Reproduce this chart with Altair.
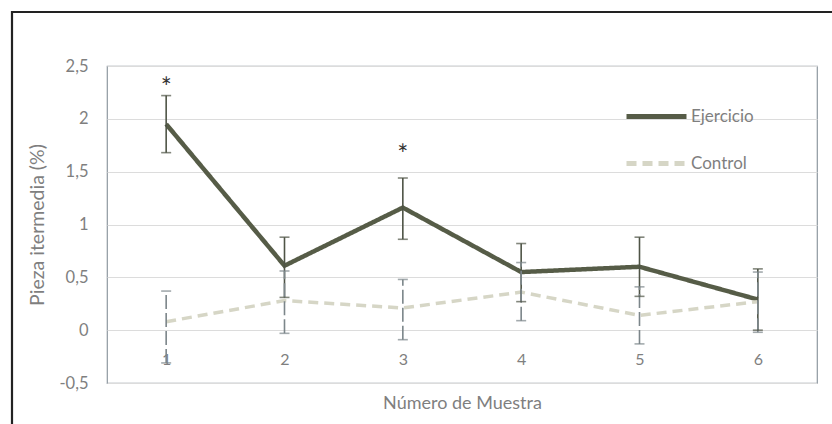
import altair as alt
import pandas as pd

samples = [1, 2, 3, 4, 5, 6]
ej_mean = [1.95, 0.61, 1.16, 0.55, 0.60, 0.29]
ej_hi = [2.22, 0.88, 1.44, 0.82, 0.88, 0.58]
ej_lo = [1.68, 0.31, 0.86, 0.27, 0.32, 0.00]
ctl_mean = [0.08, 0.28, 0.21, 0.36, 0.14, 0.27]
ctl_hi = [0.37, 0.56, 0.48, 0.64, 0.41, 0.55]
ctl_lo = [-0.31, -0.03, -0.09, 0.09, -0.13, -0.02]
series = ["Ejercicio", "Control"]
star_x = [1, 3]
star_y = [2.33, 1.70]
y_ticks = [-0.5, 0, 0.5, 1, 1.5, 2, 2.5]

rows = []
for s, m, hi, lo in [("Ejercicio", ej_mean, ej_hi, ej_lo), ("Control", ctl_mean, ctl_hi, ctl_lo)]:
    for i, x in enumerate(samples):
        rows.append({"Muestra": x, "Serie": s, "valor": m[i], "hi": hi[i], "lo": lo[i]})
df = pd.DataFrame(rows)
stars = pd.DataFrame({"Muestra": star_x, "y": star_y, "t": ["*"] * len(star_x)})

W, H = 710, 317
FONT = "Lato"
GRAY = "#7f7f7f"

xscale = alt.Scale(type="point", padding=0.5, domain=samples)
xenc = alt.X("Muestra:O", scale=xscale,
             axis=alt.Axis(title="Número de Muestra", labelAngle=0, offset=-33, ticks=False,
                           domain=False, grid=False, labelPadding=1, titlePadding=27,
                           labelColor=GRAY, titleColor=GRAY, labelFontSize=16,
                           titleFontSize=18, titleFontWeight="normal", labelFont=FONT,
                           titleFont=FONT))
yscale = alt.Scale(domain=[-0.5, 2.5], nice=False, zero=False)

color_scale = alt.Scale(domain=series, range=["#565c47", "#d6d6c6"])

frame = alt.Chart(pd.DataFrame({"a": [0]})).mark_rect(
    fill=None, stroke="#222222", strokeWidth=2.2
).encode(x=alt.value(-95), x2=alt.value(W + 40), y=alt.value(-54), y2=alt.value(H + 60))

base = alt.Chart(df)

lines = base.mark_line().encode(
    x=xenc,
    y=alt.Y("valor:Q", scale=yscale,
            axis=alt.Axis(title="Pieza itermedia (%)", values=y_ticks, grid=True,
                          gridColor="#dcdcdc", gridWidth=1, domain=False, ticks=False,
                          labelPadding=19, titlePadding=11,
                          labelExpr="replace(toString(datum.value), '.', ',')",
                          labelColor=GRAY, titleColor=GRAY, labelFontSize=16.5,
                          titleFontSize=19.5, titleFontWeight="normal", labelFont=FONT,
                          titleFont=FONT)),
    color=alt.Color("Serie:N", scale=color_scale,
                    legend=alt.Legend(title=None, orient="none", legendX=517, legendY=18,
                                      symbolType="stroke", symbolSize=3600,
                                      symbolStrokeWidth=5, labelFontSize=17,
                                      labelColor=GRAY, labelFont=FONT, rowPadding=4,
                                      labelOffset=2)),
    strokeDash=alt.StrokeDash("Serie:N", scale=alt.Scale(domain=series, range=[[1, 0], [10, 6]]),
                              legend=None),
    strokeWidth=alt.StrokeWidth("Serie:N", scale=alt.Scale(domain=series, range=[4.5, 3.5]),
                                legend=None),
    order=alt.Order("Muestra:O"),
)

err_color = alt.Scale(domain=series, range=["#4f5446", "#7c868a"])

err_rule = base.mark_rule(strokeWidth=1.6).encode(
    x=alt.X("Muestra:O", scale=xscale),
    y=alt.Y("lo:Q", scale=yscale),
    y2="hi:Q",
    stroke=alt.Stroke("Serie:N", scale=err_color, legend=None),
    strokeDash=alt.StrokeDash("Serie:N", scale=alt.Scale(domain=series, range=[[1, 0], [14, 4]]),
                              legend=None),
)
cap_hi = base.mark_tick(size=10, thickness=1.6, orient="horizontal").encode(
    x=alt.X("Muestra:O", scale=xscale),
    y=alt.Y("hi:Q", scale=yscale),
    color=alt.Color("Serie:N", scale=err_color, legend=None),
)
cap_lo = base.mark_tick(size=10, thickness=1.6, orient="horizontal").encode(
    x=alt.X("Muestra:O", scale=xscale),
    y=alt.Y("lo:Q", scale=yscale),
    color=alt.Color("Serie:N", scale=err_color, legend=None),
)

star_txt = alt.Chart(stars).mark_text(fontSize=26, color="#333333", font=FONT,
                                      baseline="middle", dy=5).encode(
    x=alt.X("Muestra:O", scale=xscale),
    y=alt.Y("y:Q", scale=yscale),
    text="t:N",
)

chart = alt.layer(frame, lines, err_rule, cap_hi, cap_lo, star_txt).resolve_scale(
    color="independent", strokeDash="independent"
).properties(
    width=W, height=H, autosize=alt.AutoSizeParams(type="none"),
    padding={"left": 107, "top": 66, "right": 15, "bottom": 41},
    background="white",
).configure_view(stroke="#8e98a0", strokeWidth=1.2)

chart.save("out.html", embed_options={"renderer": "svg", "actions": False})
